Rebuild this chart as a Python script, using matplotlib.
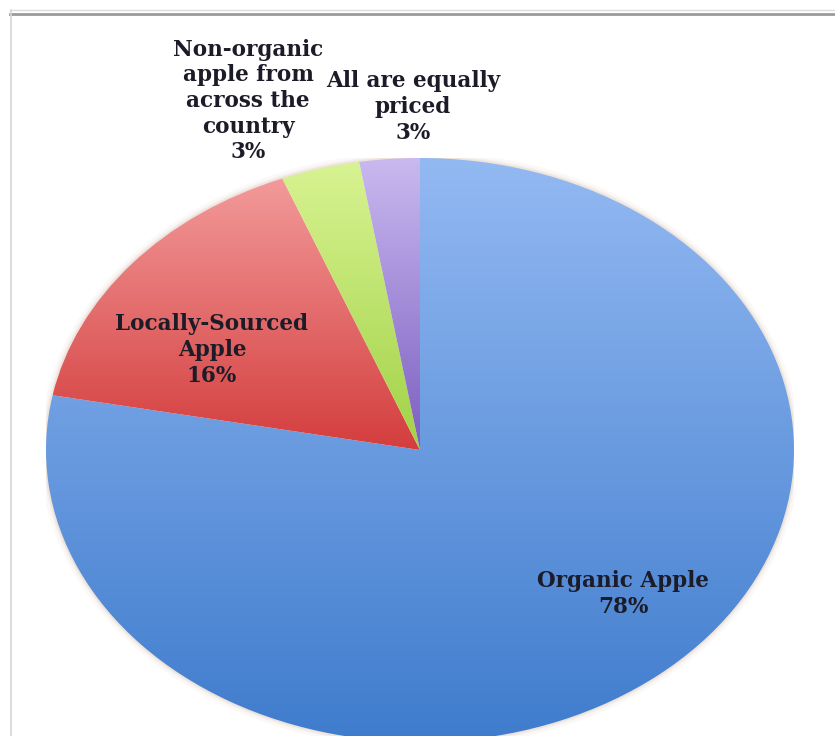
import numpy as np
import matplotlib
matplotlib.use("Agg")
import matplotlib.pyplot as plt
from matplotlib.colors import LinearSegmentedColormap
from matplotlib.lines import Line2D

# slice data (clockwise from 12 o'clock)
labels = ['Organic Apple', 'Locally-Sourced\nApple', 'Non-organic\napple from\nacross the\ncountry', 'All are equally\npriced']
values = [78, 16, 3.4, 2.6]
shown_pct = ['78%', '16%', '3%', '3%']
# gradient colours: (top, bottom) for each slice
top_colors = ['#93b9f2', '#f39a9a', '#d8f392', '#c9b9ef']
bottom_colors = ['#3f7ccd', '#d43d3d', '#a2d246', '#7c5ec0']

W, H = 835, 736
fig = plt.figure(figsize=(W / 100, H / 100), dpi=100)

# pie is drawn elliptical (the source image was stretched)
cx, cy, rx, ry = 420, 450, 374, 292
ax = fig.add_axes([(cx - rx) / W, (H - cy - ry) / H, 2 * rx / W, 2 * ry / H])

# soft shadow round the rim
for lw, a in [(9, 0.06), (5, 0.10), (2.5, 0.18)]:
    ax.add_patch(matplotlib.patches.Ellipse((0, 0), 2.0, 2.0, facecolor='none',
                                            edgecolor='#c8a890', lw=lw, alpha=a))

wedges, _ = ax.pie(values, startangle=90, counterclock=False, radius=1,
                   wedgeprops=dict(linewidth=0))

grad = np.linspace(0, 1, 256).reshape(-1, 1)
for w, c0, c1 in zip(wedges, top_colors, bottom_colors):
    w.set_facecolor('none')
    bb = w.get_path().get_extents()
    cmap = LinearSegmentedColormap.from_list('g', [c1, c0])
    im = ax.imshow(grad, cmap=cmap, extent=[bb.x0, bb.x1, bb.y0, bb.y1],
                   origin='lower', aspect='auto', zorder=1, interpolation='bicubic')
    im.set_clip_path(w)

ax.set_xlim(-1, 1)
ax.set_ylim(-1, 1)
ax.set_aspect('auto')
ax.axis('off')

# label positions in image pixels (centre of text block)
label_xy = [(623, 594), (212, 350), (248, 101), (413, 107)]
for lab, pct, (lx, ly) in zip(labels, shown_pct, label_xy):
    fig.text(lx / W, 1 - ly / H, lab + '\n' + pct, ha='center', va='center',
             family='DejaVu Serif', weight='bold', fontsize=15.5,
             color='#1c1c28', linespacing=1.22)

# frame lines of the original screenshot
fig.add_artist(Line2D([10 / W, 1], [1 - 10 / H, 1 - 10 / H], color='#dcdcdc', lw=1))
fig.add_artist(Line2D([10 / W, 1], [1 - 14 / H, 1 - 14 / H], color='#9a9a9a', lw=2))
fig.add_artist(Line2D([10.5 / W, 10.5 / W], [0, 1 - 10 / H], color='#d6d6d6', lw=1.2))

fig.savefig('out.png', dpi=100, facecolor='white')
